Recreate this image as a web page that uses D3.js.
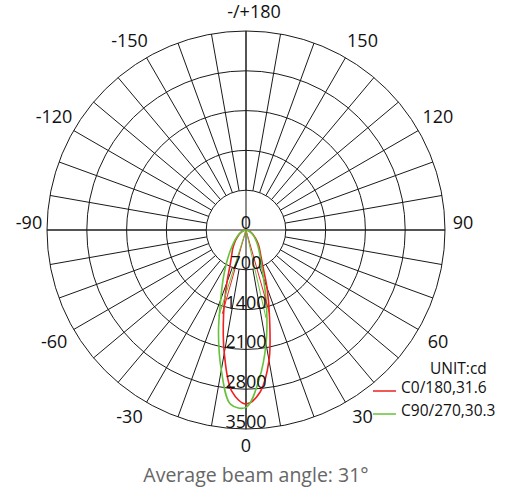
<!DOCTYPE html>
<html>
<head>
<meta charset="utf-8">
<script src="https://cdn.jsdelivr.net/npm/d3@7"></script>
<style>
  body { margin: 0; background: #fff; }
  text { font-family: "Open Sans", sans-serif; }
</style>
</head>
<body>
<div id="container"></div>
<script>
/* DATA */
const angles = [-90,-85,-80,-75,-70,-65,-60,-55,-50,-45,-40,-35,-30,-25,-20,-15,-10,-5,0,
  5,10,15,20,25,30,35,40,45,50,55,60,65,70,75,80,85,90];
const c0_180 = [0,8,20,40,65,95,125,160,200,260,330,410,500,650,980,1520,2200,2850,3060,
  2860,2330,1600,1080,700,520,420,340,270,210,165,130,95,65,40,20,8,0];
const c90_270 = [0,10,25,45,70,100,135,175,230,300,390,520,700,950,1300,1870,2500,3080,3120,
  2640,2030,1400,900,620,480,380,300,240,190,150,115,85,60,38,20,8,0];
const seriesNames = ["C0/180,31.6", "C90/270,30.3"];
const beamRed = [-15.8, 15.8], halfRed = 1530;
const beamGreen = [-17.5, 12.8], halfGreen = 1585;
const ringValues = [700, 1400, 2100, 2800, 3500];
const radialLabels = [0, 700, 1400, 2100, 2800, 3500];
const angleTicks = [-150, -120, -90, -60, -30, 0, 30, 60, 90, 120, 150, 180];

/* CONSTANTS */
const width = 505, height = 492;
const cx = 246, cy = 230, R = 199;
const colors = ["#ee2020", "#66c23a"];

const svg = d3.select("#container").append("svg")
  .attr("width", width)
  .attr("height", height);

const r = d3.scaleLinear().domain([0, 3500]).range([0, R]);
const rad = d => d * Math.PI / 180;
// 0 deg points down, positive to the right
const px = (deg, v) => cx + r(v) * Math.sin(rad(deg));
const py = (deg, v) => cy + r(v) * Math.cos(rad(deg));

const grid = svg.append("g").attr("stroke", "#1a1a1a").attr("stroke-width", 1).attr("fill", "none");

// RINGS
grid.selectAll("circle")
  .data(ringValues)
  .join("circle")
  .attr("cx", cx).attr("cy", cy)
  .attr("r", d => r(d));

// SPOKES
grid.selectAll("line.spoke")
  .data(d3.range(0, 360, 10))
  .join("line")
  .attr("class", "spoke")
  .attr("x1", d => px(d, 700)).attr("y1", d => py(d, 700))
  .attr("x2", d => px(d, 3500)).attr("y2", d => py(d, 3500));

// AXES THROUGH CENTER
grid.selectAll("line.axis")
  .data([0, 90])
  .join("line")
  .attr("class", "axis")
  .attr("x1", d => px(d, 3500)).attr("y1", d => py(d, 3500))
  .attr("x2", d => px(d + 180, 3500)).attr("y2", d => py(d + 180, 3500));

// CURVES
const line = d3.lineRadial()
  .angle(d => Math.PI - rad(d[0]))
  .radius(d => r(d[1]))
  .curve(d3.curveCatmullRom);

const curves = [c0_180, c90_270];
svg.selectAll("path.curve")
  .data(curves)
  .join("path")
  .attr("class", "curve")
  .attr("transform", `translate(${cx},${cy})`)
  .attr("d", vals => line(angles.map((a, i) => [a, vals[i]])))
  .attr("fill", "none")
  .attr("stroke", (d, i) => colors[i])
  .attr("stroke-width", 1.6);

// BEAM ANGLE LINES
const beams = [
  ...beamRed.map(a => ({ a, v: halfRed, c: colors[0] })),
  ...beamGreen.map(a => ({ a, v: halfGreen, c: colors[1] }))
];
svg.selectAll("line.beam")
  .data(beams)
  .join("line")
  .attr("class", "beam")
  .attr("x1", cx).attr("y1", cy)
  .attr("x2", d => px(d.a, d.v)).attr("y2", d => py(d.a, d.v))
  .attr("stroke", d => d.c)
  .attr("stroke-width", 1);

// RADIAL LABELS
svg.selectAll("text.rlab")
  .data(radialLabels)
  .join("text")
  .attr("class", "rlab")
  .attr("x", cx)
  .attr("y", d => cy + r(d) - 1)
  .attr("text-anchor", "middle")
  .attr("font-size", 18)
  .attr("fill", "#111")
  .text(d => d);

// ANGLE LABELS
svg.selectAll("text.alab")
  .data(angleTicks)
  .join("text")
  .attr("class", "alab")
  .attr("x", d => {
    const s = Math.sin(rad(d)), c = Math.abs(Math.cos(rad(d)));
    const nudge = c > 0.8 ? 8 : c > 0.3 ? 4 : 0;
    return cx + 217 * s + nudge * Math.sign(s);
  })
  .attr("y", d => {
    const c = Math.cos(rad(d)), s = Math.abs(Math.sin(rad(d)));
    let dy = -1 + 217 * c;
    if (s > 0.8 && Math.abs(c) < 0.3) dy -= 6;
    if (Math.abs(c) > 0.3 && Math.abs(c) < 0.8) dy += 4 * Math.sign(c);
    return cy + dy;
  })
  .attr("dy", "0.35em")
  .attr("text-anchor", "middle")
  .attr("font-size", 18)
  .attr("fill", "#111")
  .text(d => d === 180 ? "-/+180" : d);

// LEGEND
const legend = svg.append("g");
legend.append("text")
  .attr("x", 430).attr("y", 374)
  .attr("font-size", 15.5)
  .attr("fill", "#111")
  .text("UNIT:cd");

const items = legend.selectAll("g.item")
  .data(seriesNames)
  .join("g")
  .attr("class", "item")
  .attr("transform", (d, i) => `translate(0,${i * 23})`);
items.append("line")
  .attr("x1", 373).attr("x2", 396)
  .attr("y1", 391).attr("y2", 391)
  .attr("stroke", (d, i) => colors[i])
  .attr("stroke-width", 1.5);
items.append("text")
  .attr("x", 401).attr("y", 393)
  .attr("font-size", 15.5)
  .attr("fill", "#111")
  .text(d => d);

// FOOTER
svg.append("text")
  .attr("x", 256).attr("y", 482)
  .attr("text-anchor", "middle")
  .attr("font-family", "Inter, sans-serif")
  .attr("font-size", 19.5)
  .attr("fill", "#666")
  .text("Average beam angle: 31°");
</script>
</body>
</html>
